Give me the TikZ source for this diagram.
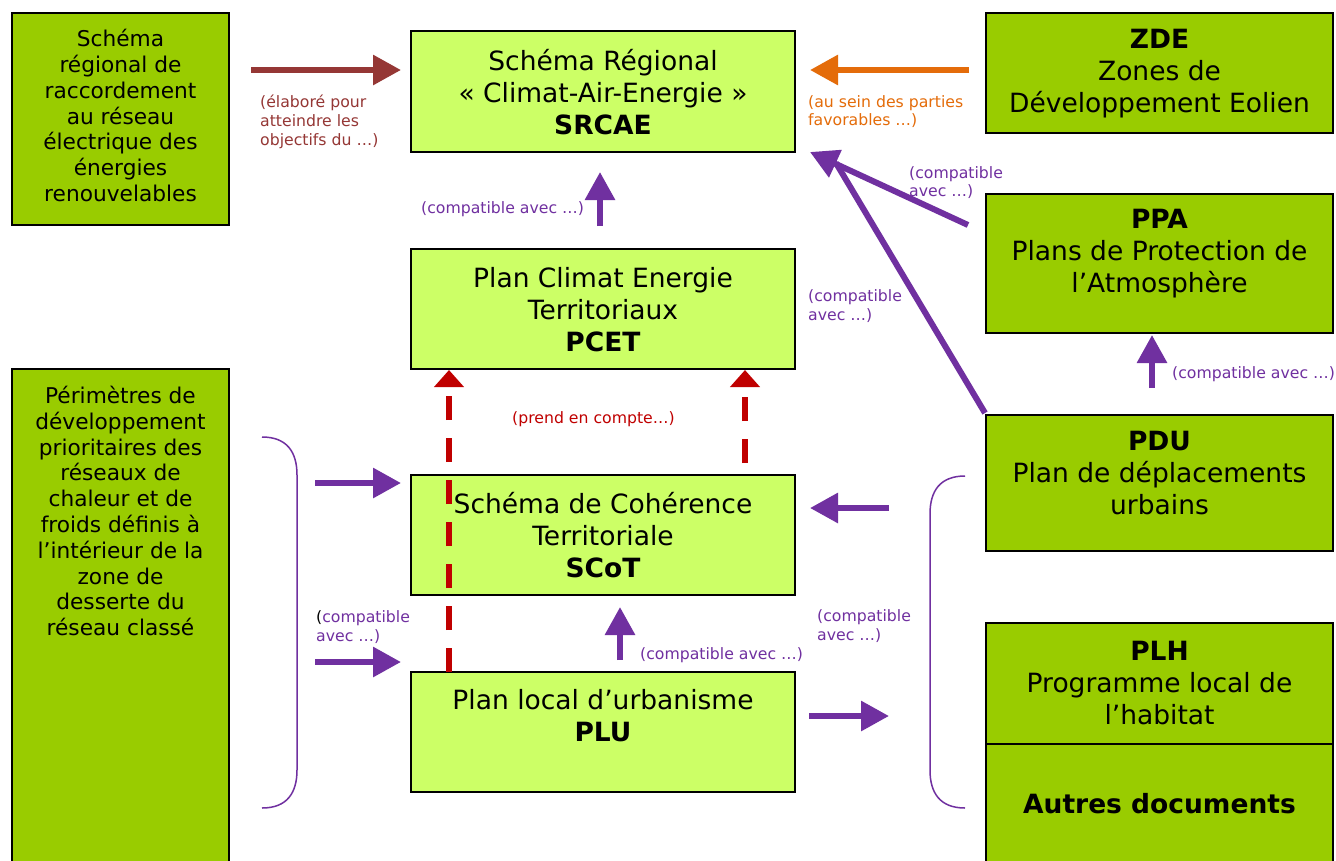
\documentclass[tikz,border=0pt]{standalone}
\usepackage{fontspec}
\setmainfont{DejaVu Sans}
\usetikzlibrary{arrows.meta}
\definecolor{dkgreen}{HTML}{99CC00}
\definecolor{ltgreen}{HTML}{CCFF66}
\definecolor{purp}{HTML}{7030A0}
\definecolor{redd}{HTML}{C00000}
\definecolor{brown2}{HTML}{953735}
\definecolor{orng}{HTML}{E46C0A}
\tikzset{
  box/.style={draw=black, line width=1.6pt, inner sep=0pt, outer sep=0pt, rectangle},
  dk/.style={box, fill=dkgreen},
  lt/.style={box, fill=ltgreen},
  big/.style={font=\fontsize{26.5}{32}\selectfont, align=center, inner sep=0pt},
  mid/.style={font=\fontsize{21.7}{25.8}\selectfont, align=center, inner sep=0pt},
  lab/.style={font=\fontsize{15.7}{18.7}\selectfont, align=left, anchor=north west, inner sep=0pt},
  fatarrow/.style={line width=6pt, -{Triangle[length=28pt,width=29pt]}},
  dasharrow/.style={line width=6pt, redd, dash pattern=on 24pt off 18pt, -{Triangle[length=17pt,width=29pt]}},
}
\begin{document}
\begin{tikzpicture}[x=1pt,y=-1pt]
\useasboundingbox[fill=white] (0,0) rectangle (1336,860);
% boxes
\node[dk, minimum width=217, minimum height=212] (srr) at (120.5,119) {};
\node[dk, minimum width=217, minimum height=501] (pdp) at (120.5,619.5) {};
\node[lt, minimum width=384, minimum height=121] (srcae) at (603,91.5) {};
\node[lt, minimum width=384, minimum height=120] (pcet) at (603,309) {};
\node[lt, minimum width=384, minimum height=120] (scot) at (603,535) {};
\node[lt, minimum width=384, minimum height=120] (plu) at (603,732) {};
\node[dk, minimum width=347, minimum height=120] (zde) at (1159.5,73) {};
\node[dk, minimum width=347, minimum height=139] (ppa) at (1159.5,263.5) {};
\node[dk, minimum width=347, minimum height=136] (pdu) at (1159.5,483) {};
\node[dk, minimum width=347, minimum height=121] (plh) at (1159.5,683.5) {};
\node[dk, minimum width=347, minimum height=126] (autres) at (1159.5,807) {};
% box texts
\node[mid] (srrt) at (120.5,115.5) {Schéma\\régional de\\raccordement\\au réseau\\électrique des\\énergies\\renouvelables};
\node[mid] (pdpt) at (120.5,511) {Périmètres de\\développement\\prioritaires des\\réseaux de\\chaleur et de\\froids définis à\\l’intérieur de la\\zone de\\desserte du\\réseau classé};
\node[big] (srcaet) at (603,92) {Schéma Régional\\« Climat-Air-Energie »\\\textbf{SRCAE}};
\node[big] (pcett) at (603,309.5) {Plan Climat Energie\\Territoriaux\\\textbf{PCET}};
\node[big] (scott) at (603,535) {Schéma de Cohérence\\Territoriale\\\textbf{SCoT}};
\node[big] (plut) at (603,716) {Plan local d’urbanisme\\\textbf{PLU}};
\node[big] (zdet) at (1159.5,73.5) {\textbf{ZDE}\\Zones de\\Développement Eolien};
\node[big] (ppat) at (1159.5,254) {\textbf{PPA}\\Plans de Protection de\\l’Atmosphère};
\node[big] (pdut) at (1159.5,473) {\textbf{PDU}\\Plan de déplacements\\urbains};
\node[big] (plht) at (1159.5,683.5) {\textbf{PLH}\\Programme local de\\l’habitat};
\node[big] (autrest) at (1159.5,804) {\textbf{Autres documents}};
% braces
\draw[purp, line width=1.5pt] (262,437) .. controls (287,437) and (297,452) .. (297,475) -- (297,770) .. controls (297,793) and (287,808) .. (262,808);
\draw[purp, line width=1.5pt] (965,476) .. controls (940,476) and (930,491) .. (930,514) -- (930,770) .. controls (930,793) and (940,808) .. (965,808);
% coordinates for arrow ends
\coordinate (b1) at (251,70); \coordinate (b2) at (401,70);
\coordinate (o1) at (969,70); \coordinate (o2) at (810,70);
\coordinate (p1) at (968,225); \coordinate (p2) at (810,152);
\coordinate (q1) at (985,413); \coordinate (q2) at (836,163);
\coordinate (c1) at (600,226); \coordinate (c2) at (600,172);
\coordinate (l1) at (315,483); \coordinate (l2) at (401,483);
\coordinate (m1) at (315,662); \coordinate (m2) at (401,662);
\coordinate (u1) at (620,660); \coordinate (u2) at (620,607);
\coordinate (r1) at (889,508); \coordinate (r2) at (810,508);
\coordinate (s1) at (809,716); \coordinate (s2) at (889,716);
\coordinate (v1) at (1152,388); \coordinate (v2) at (1152,335);
\coordinate (d1) at (449,672); \coordinate (d2) at (449,370);
\coordinate (e1) at (745,463); \coordinate (e2) at (745,370);
% arrows
\draw[fatarrow, brown2] (b1) -- (b2);
\draw[fatarrow, orng] (o1) -- (o2);
\draw[line width=6pt, purp] (q1) -- (q2);
\draw[fatarrow, purp] (p1) -- (p2);
\draw[fatarrow, purp] (c1) -- (c2);
\draw[fatarrow, purp] (l1) -- (l2);
\draw[fatarrow, purp] (m1) -- (m2);
\draw[fatarrow, purp] (u1) -- (u2);
\draw[fatarrow, purp] (r1) -- (r2);
\draw[fatarrow, purp] (s1) -- (s2);
\draw[fatarrow, purp] (v1) -- (v2);
\draw[dasharrow] (d1) -- (d2);
\draw[dasharrow] (e1) -- (e2);
% labels
\node[lab, text=brown2] (lb1) at (260,95) {(élaboré pour\\atteindre les\\objectifs du …)};
\node[lab, text=orng] (lb2) at (808,95) {(au sein des parties\\favorables …)};
\node[lab, text=purp] (lb3) at (909,166) {(compatible\\avec …)};
\node[lab, text=purp] (lb4) at (808,289.5) {(compatible\\avec …)};
\node[lab, text=purp] (lb5) at (421,201) {(compatible avec …)};
\node[lab, text=redd] (lb6) at (512,411.5) {(prend en compte…)};
\node[lab, text=purp] (lb7) at (316,610.5) {{\color{black}(}compatible\\avec …)};
\node[lab, text=purp] (lb8) at (640,647.5) {(compatible avec …)};
\node[lab, text=purp] (lb9) at (817,609.5) {(compatible\\avec …)};
\node[lab, text=purp] (lb10) at (1172,366) {(compatible avec …)};
\end{tikzpicture}
\end{document}
